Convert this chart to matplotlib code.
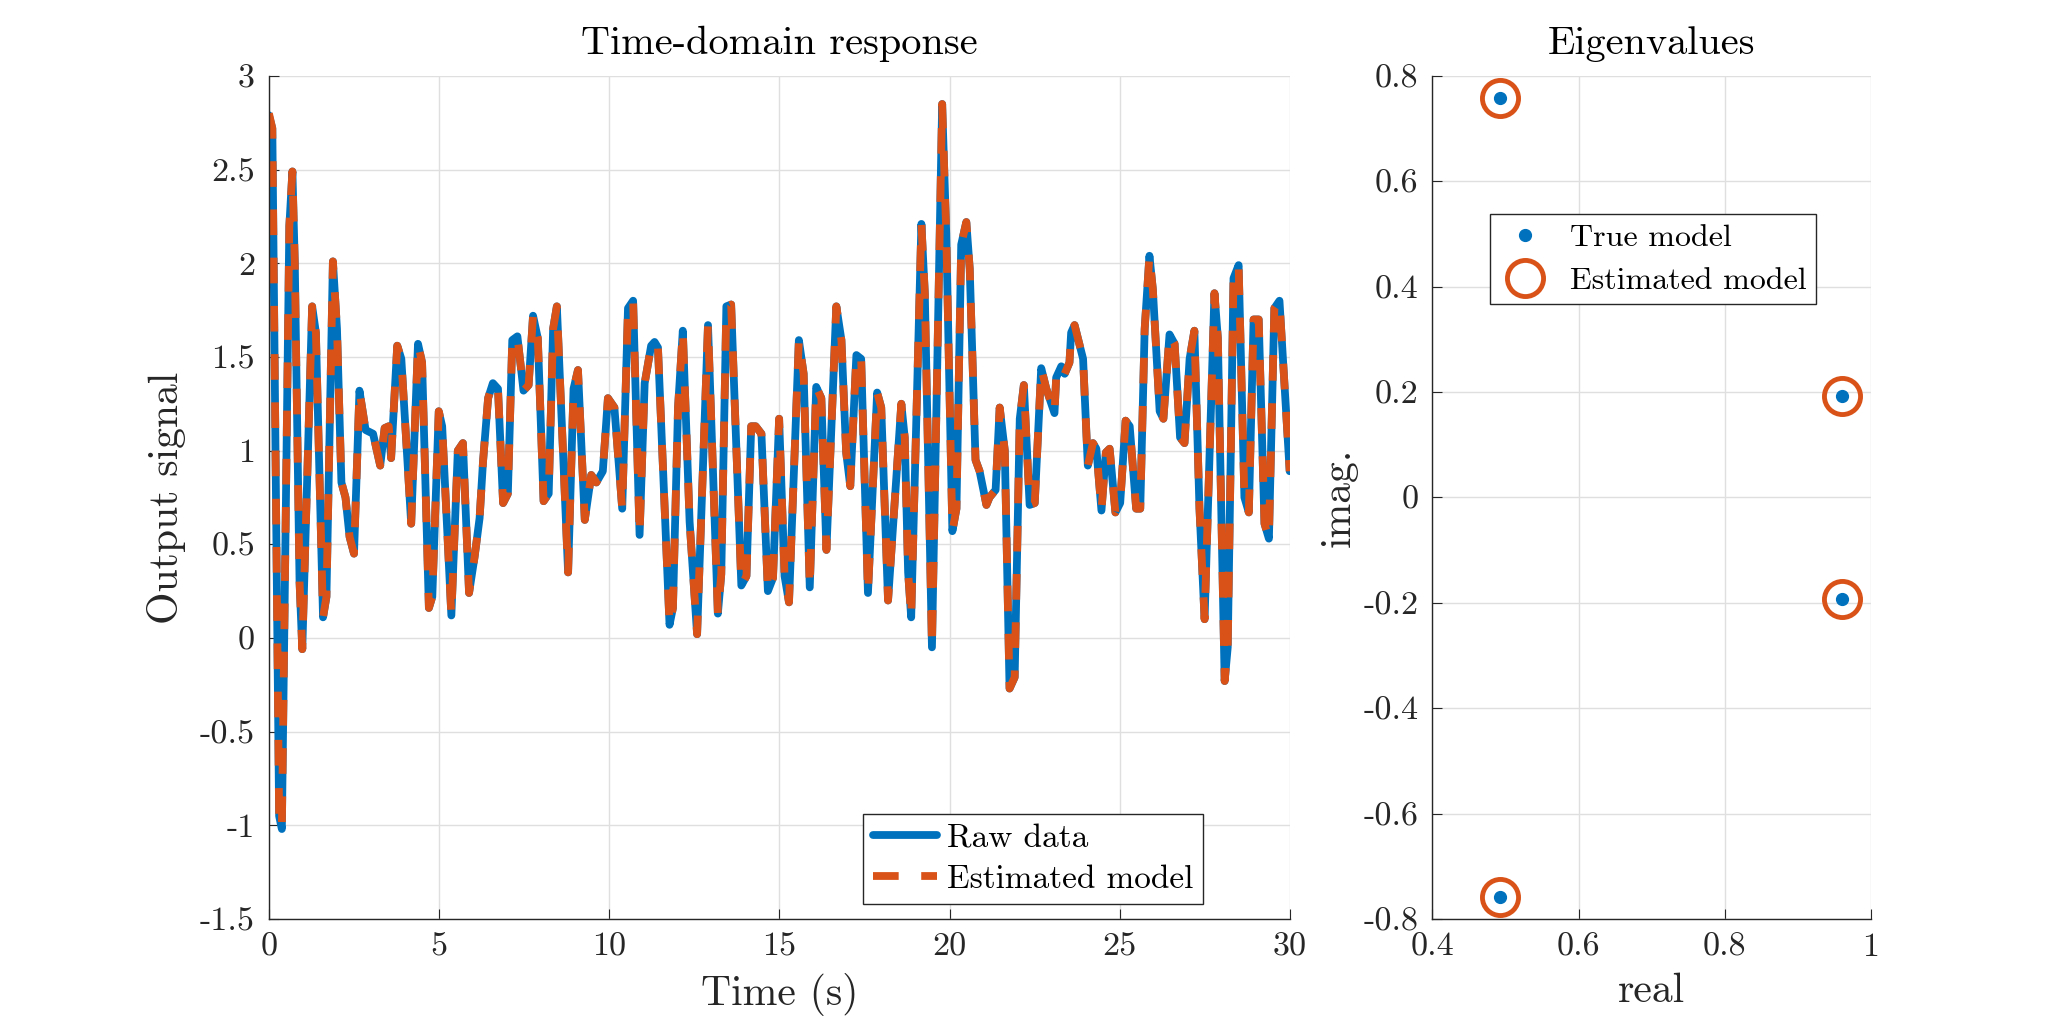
import numpy as np
import matplotlib
matplotlib.use("Agg")
import matplotlib.pyplot as plt
from matplotlib.ticker import FuncFormatter

plt.rcParams['font.family'] = ['cmr10', 'DejaVu Serif']
plt.rcParams['mathtext.fontset'] = 'cm'
plt.rcParams['axes.unicode_minus'] = False
plt.rcParams['axes.formatter.use_mathtext'] = True

# time-domain data (vertices)
t = [0.00, 0.10, 0.30, 0.38, 0.60, 0.69, 0.76, 0.90, 0.98, 1.27, 1.38, 1.59, 1.69, 1.88,
     2.00, 2.13, 2.25, 2.37, 2.50, 2.66, 2.84, 3.06, 3.27, 3.40, 3.52, 3.59, 3.77, 3.89,
     4.18, 4.38, 4.50, 4.70, 4.80, 4.99, 5.09, 5.36, 5.55, 5.70, 5.88, 6.04, 6.19, 6.29,
     6.44, 6.58, 6.73, 6.88, 7.02, 7.15, 7.30, 7.48, 7.63, 7.76, 7.90, 8.07, 8.22, 8.35,
     8.46, 8.79, 8.95, 9.08, 9.28, 9.47, 9.62, 9.81, 9.96, 10.15, 10.38, 10.55, 10.70,
     10.89, 11.04, 11.23, 11.33, 11.43, 11.77, 11.87, 12.02, 12.16, 12.36, 12.58, 12.90,
     13.19, 13.29, 13.44, 13.58, 13.88, 14.03, 14.17, 14.30, 14.47, 14.66, 14.81, 14.99,
     15.15, 15.28, 15.57, 15.71, 15.89, 16.08, 16.23, 16.38, 16.67, 16.82, 16.96, 17.08,
     17.26, 17.40, 17.60, 17.87, 17.99, 18.19, 18.58, 18.68, 18.78, 18.87, 19.17, 19.27,
     19.48, 19.78, 19.90, 20.08, 20.20, 20.34, 20.49, 20.59, 20.76, 20.88, 21.08, 21.17,
     21.35, 21.47, 21.62, 21.76, 21.91, 22.06, 22.18, 22.35, 22.50, 22.69, 22.84, 23.08,
     23.13, 23.28, 23.38, 23.52, 23.57, 23.67, 23.92, 24.06, 24.21, 24.31, 24.46, 24.59,
     24.70, 24.87, 25.01, 25.17, 25.29, 25.48, 25.60, 25.73, 25.87, 25.97, 26.17, 26.28,
     26.46, 26.61, 26.77, 26.90, 27.05, 27.19, 27.34, 27.49, 27.78, 27.88, 28.08, 28.17,
     28.34, 28.49, 28.66, 28.79, 28.93, 29.08, 29.25, 29.38, 29.54, 29.69, 29.99]
y_raw = [2.79, 2.72, -0.95, -1.02, 2.20, 2.49, 2.00, 0.30, -0.06, 1.77, 1.63, 0.11, 0.22, 2.01,
         1.65, 0.83, 0.75, 0.54, 0.45, 1.32, 1.11, 1.09, 0.92, 1.12, 1.13, 0.96, 1.56, 1.49,
         0.61, 1.57, 1.47, 0.16, 0.22, 1.21, 1.13, 0.12, 1.00, 1.04, 0.24, 0.43, 0.64, 0.94,
         1.28, 1.36, 1.33, 0.72, 0.77, 1.59, 1.61, 1.32, 1.35, 1.72, 1.60, 0.73, 0.77, 1.65,
         1.77, 0.35, 1.33, 1.43, 0.63, 0.87, 0.83, 0.89, 1.28, 1.23, 0.69, 1.76, 1.80,
         0.55, 1.36, 1.56, 1.58, 1.55, 0.07, 0.16, 1.23, 1.64, 0.62, 0.02, 1.67,
         0.13, 0.34, 1.77, 1.78, 0.28, 0.33, 1.13, 1.13, 1.09, 0.25, 0.32, 1.17,
         0.33, 0.19, 1.59, 1.41, 0.27, 1.34, 1.28, 0.47, 1.77, 1.59, 0.99, 0.81,
         1.51, 1.49, 0.24, 1.31, 1.23, 0.20, 1.25, 1.07, 0.35, 0.11, 2.21, 1.84,
         -0.05, 2.85, 2.16, 0.57, 0.69, 2.10, 2.22, 1.97, 0.95, 0.89, 0.71, 0.75,
         0.79, 1.23, 1.00, -0.27, -0.21, 1.17, 1.35, 0.71, 0.72, 1.44, 1.33, 1.20,
         1.39, 1.45, 1.41, 1.47, 1.63, 1.67, 1.49, 0.92, 1.04, 1.01, 0.68, 0.99,
         1.01, 0.67, 0.72, 1.16, 1.13, 0.69, 0.69, 1.65, 2.04, 1.86, 1.21, 1.17,
         1.62, 1.57, 1.07, 1.04, 1.49, 1.64, 0.69, 0.10, 1.84, 1.60, -0.23, -0.05,
         1.92, 1.99, 0.75, 0.67, 1.70, 1.70, 0.61, 0.53, 1.76, 1.80, 0.89]
# the model output lies on top of the data in the picture
y_est = list(y_raw)
y_est[0] = 2.80

# eigenvalues
eig_true_re = [0.4925, 0.4925, 0.960, 0.960]
eig_true_im = [0.7575, -0.7575, 0.1933, -0.1933]
eig_est_re = [0.4925, 0.4925, 0.960, 0.960]
eig_est_im = [0.7575, -0.7575, 0.1933, -0.1933]

blue = '#0072BD'
orange = '#D95319'
dark = '#262626'
gridc = '#dfdfdf'

fig = plt.figure(figsize=(20.67, 10.33), dpi=100)
ax1 = fig.add_axes([0.1301, 0.1104, 0.4940, 0.8161])
ax2 = fig.add_axes([0.6930, 0.1104, 0.2121, 0.8161])

fmt = FuncFormatter(lambda v, p: f'{v:g}' if abs(v) > 1e-9 else '0')


def style(ax):
    ax.grid(True, color=gridc, lw=1.0)
    ax.set_axisbelow(True)
    for s in ['top', 'right']:
        ax.spines[s].set_visible(False)
    for s in ['left', 'bottom']:
        ax.spines[s].set_color(dark)
        ax.spines[s].set_linewidth(1.0)
    ax.tick_params(direction='in', length=7.5, width=0.8, colors=dark,
                   labelsize=24.5, pad=10, top=False, right=False)
    ax.xaxis.set_major_formatter(fmt)
    ax.yaxis.set_major_formatter(fmt)


ax1.plot(t, y_raw, color=blue, lw=5.6, solid_capstyle='round',
         solid_joinstyle='round', label='Raw data')
ax1.plot(t, y_est, color=orange, lw=5.6, dashes=(3.3, 2.9), dash_capstyle='butt',
         dash_joinstyle='round', label='Estimated model')
ax1.set_xlim(0, 30)
ax1.set_ylim(-1.5, 3)
ax1.set_xticks([0, 5, 10, 15, 20, 25, 30])
ax1.set_yticks([-1.5, -1, -0.5, 0, 0.5, 1, 1.5, 2, 2.5, 3])
style(ax1)
ax1.set_xlabel('Time (s)', fontsize=30, color=dark, labelpad=8)
ax1.set_ylabel('Output signal', fontsize=30, color=dark, labelpad=10)
ax1.set_title('Time-domain response', fontsize=29, color='black', pad=16)
ax1.legend(loc='lower right', bbox_to_anchor=(1203/2067, 129/1033),
           bbox_transform=fig.transFigure, borderaxespad=0, fontsize=24,
           fancybox=False, framealpha=1, edgecolor=dark, handlelength=1.9,
           handletextpad=0.3, labelspacing=0.35, borderpad=0.3)

ax2.plot(eig_true_re, eig_true_im, ls='none', marker='o', ms=8.5, color=blue,
         mec=blue, label='True model', zorder=4)
ax2.plot(eig_est_re, eig_est_im, ls='none', marker='o', ms=26, mfc='none',
         mec=orange, mew=3.5, label='Estimated model', zorder=3)
ax2.set_xlim(0.4, 1)
ax2.set_ylim(-0.8, 0.8)
ax2.set_xticks([0.4, 0.6, 0.8, 1])
ax2.set_yticks([-0.8, -0.6, -0.4, -0.2, 0, 0.2, 0.4, 0.6, 0.8])
style(ax2)
ax2.set_xlabel('real', fontsize=30, color=dark, labelpad=8)
ax2.set_ylabel('imag.', fontsize=30, color=dark, labelpad=4)
ax2.set_title('Eigenvalues', fontsize=29, color='black', pad=16)
ax2.legend(loc='upper left', bbox_to_anchor=(1490/2067, 819/1033),
           bbox_transform=fig.transFigure, borderaxespad=0, fontsize=23,
           fancybox=False, framealpha=1, edgecolor=dark, handlelength=1.6,
           handletextpad=0.6, labelspacing=0.45, borderpad=0.3)

fig.savefig('out.png', dpi=100)
